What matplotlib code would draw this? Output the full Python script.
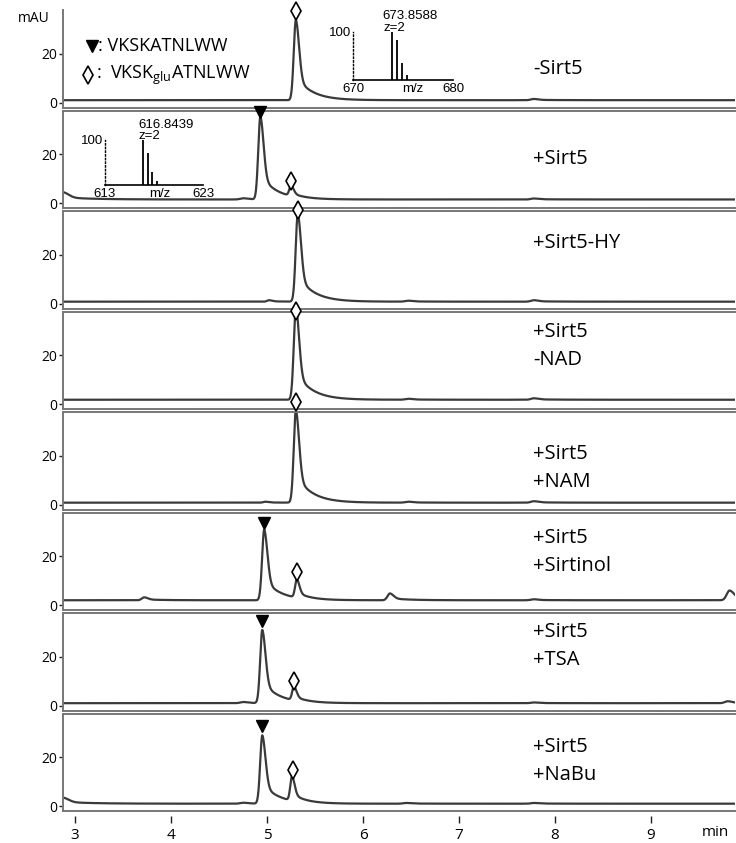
import numpy as np
import matplotlib
matplotlib.use("Agg")
import matplotlib.pyplot as plt

plt.rcParams['font.family'] = ['Open Sans', 'DejaVu Sans']
plt.rcParams['mathtext.fontset'] = 'custom'
plt.rcParams['mathtext.rm'] = 'Open Sans'

# ---- data (retention time in min, height in mAU) ----
labels = ['-Sirt5', '+Sirt5', '+Sirt5-HY', '+Sirt5\n-NAD', '+Sirt5\n+NAM',
          '+Sirt5\n+Sirtinol', '+Sirt5\n+TSA', '+Sirt5\n+NaBu']
label_y = [14, 18, 25, 23.8, 15, 21.8, 24.5, 18.5]
baseline = [1.0, 1.5, 0.8, 1.8, 0.8, 2.0, 1.0, 1.0]

peak_rt = [
    [5.30, 7.78],
    [2.87, 4.75, 4.93, 5.25, 7.78],
    [5.02, 5.32, 6.47, 7.78],
    [5.30, 6.47, 7.78],
    [4.98, 5.30, 6.47, 7.78],
    [3.72, 4.97, 5.31, 6.28, 7.78, 9.82],
    [4.75, 4.95, 5.28, 7.78, 9.80],
    [2.87, 4.75, 4.95, 5.26, 6.45, 7.78],
]
peak_h = [
    [33, 0.5],
    [3.0, 0.5, 34, 4.3, 0.4],
    [0.6, 36, 0.4, 0.6],
    [38, 0.4, 0.6],
    [0.4, 38, 0.4, 0.6],
    [1.2, 29, 7.5, 2.8, 0.4, 4.0],
    [0.5, 30, 5.7, 0.3, 0.8],
    [2.5, 0.4, 28, 10, 0.3, 0.3],
]
peak_w = [
    [0.022, 0.03],
    [0.04, 0.03, 0.022, 0.018, 0.03],
    [0.02, 0.022, 0.03, 0.03],
    [0.022, 0.03, 0.03],
    [0.02, 0.022, 0.03, 0.03],
    [0.025, 0.022, 0.018, 0.025, 0.03, 0.03],
    [0.03, 0.022, 0.018, 0.03, 0.03],
    [0.04, 0.03, 0.022, 0.018, 0.03, 0.03],
]

# peak markers: (symbol, rt, y)
markers = [
    [('d', 5.30, 37.5)],
    [('v', 4.93, 37.2), ('d', 5.25, 9.0)],
    [('d', 5.32, 38.5)],
    [('d', 5.30, 38.3)],
    [('d', 5.30, 42.0)],
    [('v', 4.97, 33.5), ('d', 5.31, 13.5)],
    [('v', 4.95, 34.7), ('d', 5.28, 10.0)],
    [('v', 4.95, 32.7), ('d', 5.27, 14.7)],
]

# MS insets
ms1_mz = [673.86, 674.36, 674.86, 675.36]
ms1_rel = [1.0, 0.83, 0.36, 0.10]
ms2_mz = [616.84, 617.34, 617.84, 618.34]
ms2_rel = [1.0, 0.72, 0.29, 0.09]

xmin, xmax = 2.873, 9.876
t = np.linspace(xmin, xmax, 5000)


def peak_shape(t, rt, h, w):
    # sharp front, tailing back
    dt = t - rt
    left = np.exp(-0.5 * (dt / w) ** 2)
    right = 0.7 * np.exp(-0.5 * (dt / (1.5 * w)) ** 2) + 0.3 * np.exp(-np.clip(dt, 0, None) / (7.5 * w))
    return h * np.where(dt < 0, left, right)


W, H = 736, 843
fig = plt.figure(figsize=(W / 100, H / 100), dpi=100)
left_px, right_px = 63, 735
top0, step, hpx = 10, 100.5, 97.5
spine_c = '#777777'
trace_c = '#3a3a3a'

axes = []
for i in range(8):
    top = top0 + i * step
    ax = fig.add_axes([left_px / W, 1 - (top + hpx) / H, (right_px - left_px) / W, hpx / H])
    y = np.full_like(t, baseline[i])
    for rt, h, w in zip(peak_rt[i], peak_h[i], peak_w[i]):
        y = y + peak_shape(t, rt, h, w)
    ax.plot(t, y, color=trace_c, lw=1.6)
    for sym, mx, my in markers[i]:
        if sym == 'v':
            ax.plot(mx, my, marker='v', ms=8, color='black', clip_on=False, zorder=5)
        else:
            ax.plot(mx, my, marker='d', ms=9, mfc='white', mec='black', mew=1.2,
                    clip_on=False, zorder=5)
    ax.set_xlim(xmin, xmax)
    ax.set_ylim(-2, 38)
    ax.set_yticks([0, 20])
    ax.set_yticklabels(['0', '20'])
    ax.tick_params(axis='y', length=3, width=1, color='#222222', pad=1.5, labelsize=10)
    ax.set_xticks([])
    ax.spines['right'].set_visible(False)
    ax.spines['top'].set_visible(i > 0)
    for s in ['left', 'top', 'bottom']:
        ax.spines[s].set_color(spine_c)
        ax.spines[s].set_linewidth(1.4)
    ax.patch.set_alpha(0)
    ax.text(7.77, label_y[i], labels[i], fontsize=14.5, va='center', ha='left', linespacing=1.5)
    axes.append(ax)

# legend in first panel
ax0 = axes[0]
ax0.plot(3.175, 23.2, marker='v', ms=8, color='black')
ax0.plot(3.134, 11.3, marker='d', ms=9, mfc='white', mec='black', mew=1.2)
ax0.text(3.238, 23.2, ': VKSKATNLWW', fontsize=13, va='center')
ax0.text(3.217, 11.3, ':  VKSK$_{\\mathrm{glu}}$ATNLWW', fontsize=13, va='center')

# x axis with detached ticks
sec = axes[-1].secondary_xaxis(-0.05)
sec.spines['bottom'].set_visible(False)
sec.set_xticks(range(3, 10))
sec.tick_params(length=5, width=1, color='#222222', pad=4, labelsize=11)
fig.text(715 / W, 1 - 833 / H, 'min', fontsize=11, ha='center', va='center')
fig.text(18 / W, 1 - 18 / H, 'mAU', fontsize=10, ha='left', va='center')

# MS insets
ms_font = ['Liberation Sans', 'DejaVu Sans']
insets = [
    ([353, 80, 100, 48], ms1_mz, ms1_rel, (670, 680), 676.0, (672.9, '673.8588'), (673.1, 'z=2')),
    ([105, 185, 98, 45], ms2_mz, ms2_rel, (613, 623), 618.6, (616.37, '616.8439'), (616.37, 'z=2')),
]
for (lx, by, wd, ht), mz, rel, xl, mzpos, lab1, lab2 in insets:
    ia = fig.add_axes([lx / W, 1 - by / H, wd / W, ht / H])
    ia.patch.set_alpha(0)
    ia.vlines(mz, 0, rel, color='black', lw=1.3)
    ia.set_xlim(*xl)
    ia.set_ylim(0, 1)
    ia.set_xticks(list(xl))
    ia.set_xticklabels([str(v) for v in xl], family=ms_font, fontsize=9.5)
    ia.set_yticks([1])
    ia.set_yticklabels(['100'], family=ms_font, fontsize=9.5)
    ia.tick_params(length=0, pad=2)
    ia.tick_params(axis='y', pad=1)
    ia.spines['top'].set_visible(False)
    ia.spines['right'].set_visible(False)
    ia.spines['left'].set_linestyle(':')
    ia.spines['left'].set_linewidth(1.0)
    ia.spines['bottom'].set_linewidth(1.2)
    ia.text(mzpos, -0.06, 'm/z', family=ms_font, fontsize=9.5, ha='center', va='top')
    ia.text(lab1[0], 1.27, lab1[1], family=ms_font, fontsize=9.5, va='baseline')
    ia.text(lab2[0], 1.03, lab2[1], family=ms_font, fontsize=9.5, va='baseline')

fig.savefig('out.png', dpi=100)
